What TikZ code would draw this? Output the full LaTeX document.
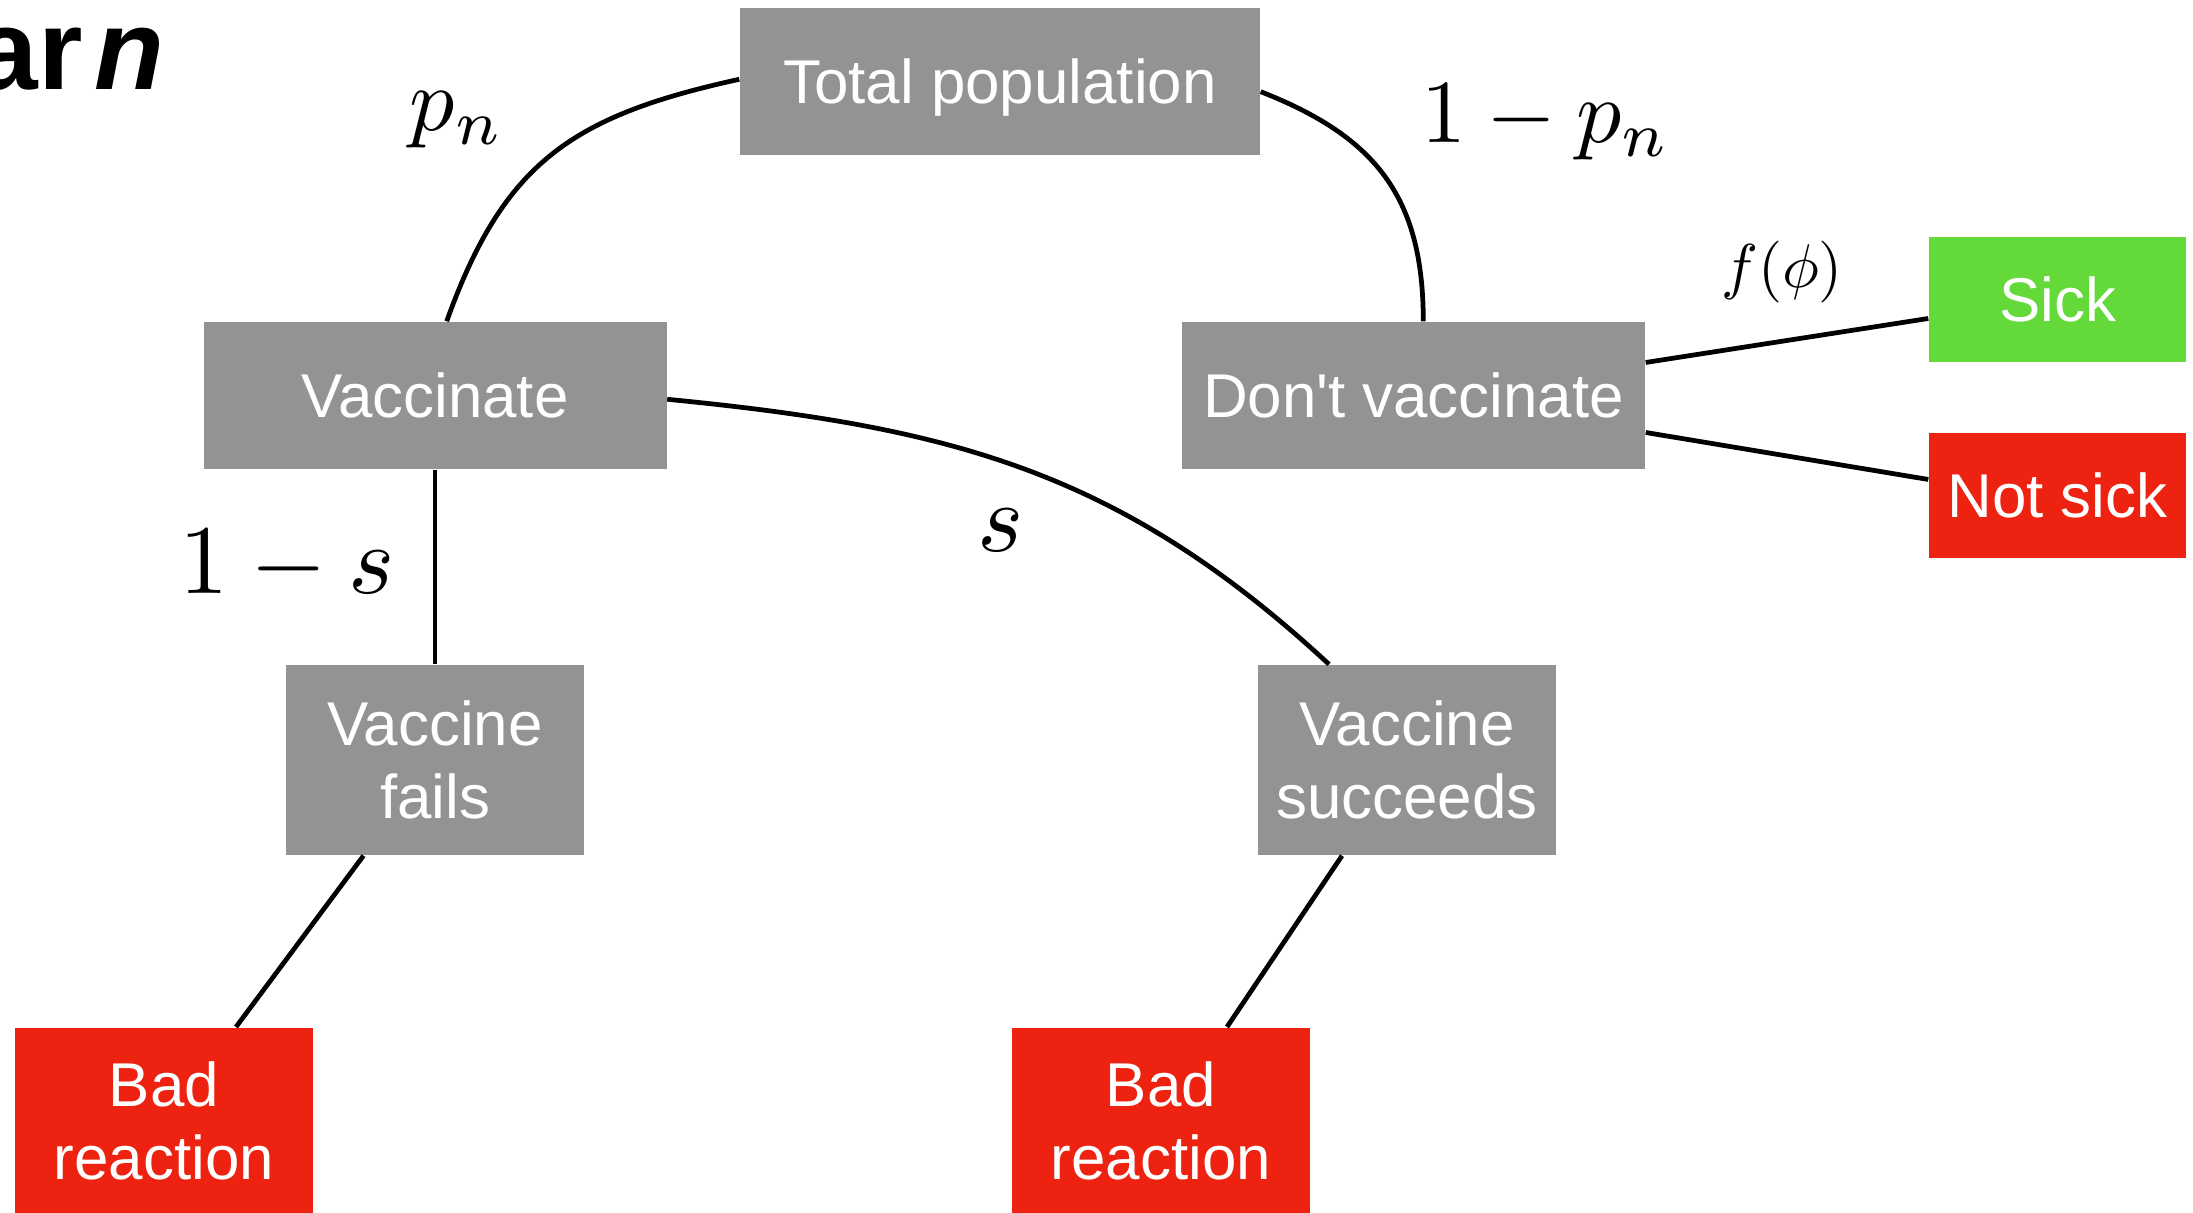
\documentclass[tikz,border=0pt]{standalone}
\usepackage{fontspec}
\setmainfont{Liberation Sans}
\definecolor{boxgray}{RGB}{147,147,147}
\definecolor{sickgreen}{RGB}{99,217,58}
\definecolor{badred}{RGB}{237,34,16}
\tikzset{
  box/.style={fill=boxgray, text=white, inner sep=0pt, align=center,
    font=\fontsize{17.6}{20.8}\selectfont},
  widebox/.style={box, minimum height=1.47cm},
  tallbox/.style={box, minimum width=2.98cm, minimum height=1.90cm},
  outcome/.style={box, minimum width=2.57cm, minimum height=1.25cm},
  edge/.style={line width=1.35pt, black},
  mathlabel/.style={anchor=base, inner sep=0pt},
  prob/.style={mathlabel, scale=2.56},
  bigprob/.style={mathlabel, scale=2.8},
  smallprob/.style={mathlabel, scale=1.76}
}
\begin{document}
\begin{tikzpicture}
\clip (0,0) rectangle (21.93,12.13);
\fill[white] (0,0) rectangle (21.93,12.13);

% heading
\node[anchor=base west, inner sep=0pt, font=\fontsize{32.5}{38}\selectfont\bfseries]
  (title) at (-0.26,11.23) {ar\hspace{0.1em}\textit{n}};

% decision tree boxes
\node[widebox, minimum width=5.20cm, text depth=0pt] (tp) at (10.00,11.315) {Total population};
\node[widebox, minimum width=4.63cm] (vac) at (4.35,8.175) {Vaccinate};
\node[widebox, minimum width=4.63cm] (dv) at (14.135,8.175) {Don\textquotesingle t vaccinate};
\node[outcome, fill=sickgreen] (sick) at (20.575,9.135) {Sick};
\node[outcome, fill=badred] (notsick) at (20.575,7.175) {Not sick};
\node[tallbox] (vf) at (4.35,4.53) {Vaccine\\fails};
\node[tallbox] (vs) at (14.07,4.53) {Vaccine\\succeeds};
\node[tallbox, fill=badred, minimum height=1.86cm, anchor=north] (br1) at (1.64,1.86) {Bad\\reaction};
\node[tallbox, fill=badred, minimum height=1.86cm, anchor=north] (br2) at (11.61,1.86) {Bad\\reaction};

% branches
\draw[edge] ([yshift=0.022cm]tp.west) .. controls +(192.4:1.7) and +(70.3:1.7) .. ([xshift=0.117cm]vac.north);
\draw[edge] ([yshift=-0.102cm]tp.east) .. controls +(-21.4:1.24) and +(90:1.24) .. ([xshift=0.098cm]dv.north);
\draw[edge] ([yshift=-0.038cm]vac.east) .. controls +(-5.6:2.85) and +(137.2:2.85) .. ([xshift=-0.78cm]vs.north);
\draw[edge] (vac.south) -- (vac.south |- vf.north);
\draw[edge] ([xshift=-0.715cm]vf.south) -- ([xshift=0.72cm]br1.north);
\draw[edge] ([xshift=-0.65cm]vs.south) -- ([xshift=0.66cm]br2.north);
\draw[edge] ([yshift=0.33cm]dv.east) -- ([yshift=-0.19cm]sick.west);
\draw[edge] ([yshift=-0.37cm]dv.east) -- ([yshift=0.16cm]notsick.west);

% branch probabilities
\node[prob] (lpn) at (4.57,10.82) {$p_n$};
\node[prob] (lqn) at (15.46,10.70) {$1-p_n$};
\node[bigprob] (lfail) at (2.87,6.19) {$1-s$};
\node[bigprob] (lsucc) at (10.01,6.61) {$s$};
\node[smallprob] (lsick) at (17.82,9.25) {$f(\phi)$};
\end{tikzpicture}
\end{document}
